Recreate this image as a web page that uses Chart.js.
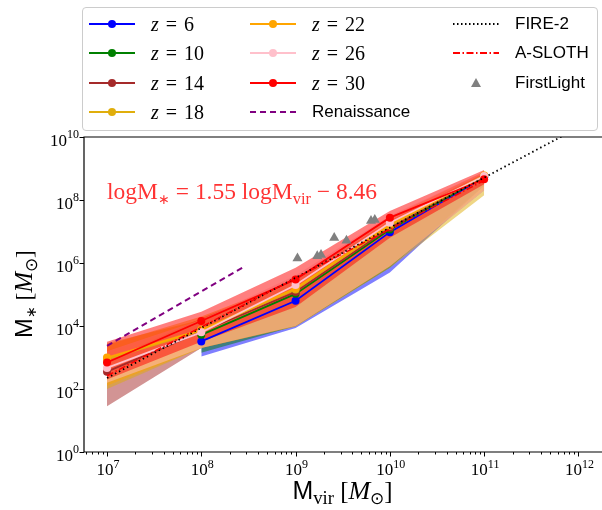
<!DOCTYPE html>
<html lang="en">
<head>
    <meta charset="UTF-8">
    <title>M* vs Mvir</title>
    <script src="https://cdn.jsdelivr.net/npm/chart.js"></script>
    <style>
        body { margin: 0; background: white; }
        #wrap { position: relative; width: 602px; height: 510px; overflow: hidden; }
        #chart { position: absolute; left: 0; top: 0; }
        #legend {
            position: absolute; left: 82px; top: 7px; width: 516px; height: 124px;
            border: 1px solid #cccccc; border-radius: 4px; background: rgba(255,255,255,0.8);
            box-sizing: border-box;
        }
        .item { position: absolute; height: 24px; display: flex; align-items: center; white-space: nowrap; }
        .item svg { width: 46px; height: 14px; margin-right: 16px; }
        .math { font-family: "Liberation Serif", serif; font-size: 20px; word-spacing: 2px; }
        .sans { font-family: "Liberation Sans", sans-serif; font-size: 17px; }
    </style>
</head>
<body>
<div id="wrap">
    <canvas id="chart" width="602" height="510"></canvas>
    <div id="legend"></div>
</div>
<script>
    // halo masses where the medians are given
    const mvir = [1e7, 1e8, 1e9, 1e10, 1e11];
    const zValues = [6, 10, 14, 18, 22, 26, 30];
    const zColors = ["#0000ff", "#008000", "#a52a2a", "#e0ae0c", "#ffa500", "#ffc0cb", "#ff0000"];

    // log10 M* medians per redshift (null = no halos in that bin)
    const z6_med  = [null, 3.51, 4.80, 6.98, 8.72];
    const z10_med = [null, 3.72, 5.02, 7.06, 8.74];
    const z14_med = [2.55, 3.82, 5.08, 7.12, 8.76];
    const z18_med = [2.95, 3.85, 5.16, 7.18, 8.77];
    const z22_med = [3.00, 3.88, 5.20, 7.22, 8.78];
    const z26_med = [2.67, 3.80, 5.30, 7.28, 8.76];
    const z30_med = [2.84, 4.16, 5.48, 7.44, 8.66];

    // log10 M* scatter band, lower / upper edge
    const z6_lo  = [null, 3.03, 3.94, 5.70, 8.45];
    const z6_hi  = [null, 3.75, 5.05, 7.15, 8.80];
    const z10_lo = [null, 3.15, 4.00, 5.85, 8.45];
    const z10_hi = [null, 3.95, 5.20, 7.20, 8.85];
    const z14_lo = [1.45, 3.30, 4.00, 5.90, 8.30];
    const z14_hi = [2.90, 4.25, 5.45, 7.35, 8.85];
    const z18_lo = [2.00, 3.30, 3.98, 5.85, 8.15];
    const z18_hi = [3.45, 4.20, 5.40, 7.35, 8.85];
    const z22_lo = [2.10, 3.30, 4.00, 5.90, 8.35];
    const z22_hi = [3.40, 4.30, 5.45, 7.45, 8.90];
    const z26_lo = [2.20, 3.30, 4.00, 5.90, 8.30];
    const z26_hi = [3.20, 4.20, 5.60, 7.50, 8.90];
    const z30_lo = [2.30, 3.50, 4.60, 6.80, 8.50];
    const z30_hi = [3.50, 4.45, 5.85, 7.65, 8.95];

    const medians = [z6_med, z10_med, z14_med, z18_med, z22_med, z26_med, z30_med];
    const lows = [z6_lo, z10_lo, z14_lo, z18_lo, z22_lo, z26_lo, z30_lo];
    const highs = [z6_hi, z10_hi, z14_hi, z18_hi, z22_hi, z26_hi, z30_hi];

    // other simulations, log10 values
    const renaissance_x = [7.0, 8.47];
    const renaissance_y = [3.37, 5.91];
    const fire2_x = [7.0, 12.0];
    const fire2_y = [2.35, 10.3];
    const asloth_x = [7.0, 11.0];
    const asloth_y = [2.42, 8.62];
    const firstlight_x = [9.02, 9.23, 9.27, 9.41, 9.54, 9.80, 9.84];
    const firstlight_y = [6.15, 6.22, 6.26, 6.80, 6.71, 7.34, 7.37];

    function pts(xs, ys) {
        return xs.map((x, i) => ({ x: x, y: ys[i] == null ? null : Math.pow(10, ys[i]) }));
    }
    function logPts(xs, ys) {
        return xs.map((x, i) => ({ x: Math.pow(10, x), y: Math.pow(10, ys[i]) }));
    }
    function alpha(hex, a) {
        const n = parseInt(hex.slice(1), 16);
        return `rgba(${n >> 16},${(n >> 8) & 255},${n & 255},${a})`;
    }

    const datasets = [];
    zValues.forEach((z, i) => {
        datasets.push({
            data: pts(mvir, lows[i]), borderWidth: 0, pointRadius: 0, fill: false,
            order: 100 - i
        });
        const loIndex = datasets.length - 1;
        datasets.push({
            data: pts(mvir, highs[i]), borderWidth: 0, pointRadius: 0,
            fill: { target: loIndex, above: alpha(zColors[i], 0.5), below: alpha(zColors[i], 0.5) },
            order: 100 - i
        });
    });
    zValues.forEach((z, i) => {
        datasets.push({
            data: pts(mvir, medians[i]), borderColor: zColors[i], backgroundColor: zColors[i],
            borderWidth: 1.8, pointRadius: 4, pointBorderWidth: 0, fill: false,
            order: 50 - i
        });
    });
    datasets.push({
        data: logPts(renaissance_x, renaissance_y), borderColor: "#800080",
        borderDash: [6, 4], borderWidth: 2, pointRadius: 0, fill: false, order: 5
    });
    datasets.push({
        data: logPts(fire2_x, fire2_y), borderColor: "#000000",
        borderDash: [1.5, 3], borderWidth: 1.8, pointRadius: 0, fill: false, order: 3
    });
    datasets.push({
        data: logPts(asloth_x, asloth_y), borderColor: "#ff0000",
        borderDash: [7, 2.5, 1.5, 2.5], borderWidth: 1.5, pointRadius: 0, fill: false, order: 2
    });
    datasets.push({
        type: "scatter",
        data: logPts(firstlight_x, firstlight_y), backgroundColor: "#808080",
        pointStyle: "triangle", pointRadius: 5.8, pointBorderWidth: 0, order: 1
    });

    const SERIF = '"Liberation Serif", serif';
    const SANS = '"Liberation Sans", sans-serif';

    function measure(ctx, parts) {
        let total = 0;
        parts.forEach(p => { ctx.font = p.font; total += ctx.measureText(p.t).width; });
        return total;
    }

    // draws a run of text pieces, each with its own font and vertical shift
    function drawRich(ctx, parts, x, y, align) {
        const total = measure(ctx, parts);
        let cx = align === "center" ? x - total / 2 : align === "right" ? x - total : x;
        ctx.textAlign = "left";
        ctx.textBaseline = "alphabetic";
        parts.forEach(p => {
            ctx.font = p.font;
            ctx.fillText(p.t, cx, y + (p.dy || 0));
            cx += ctx.measureText(p.t).width;
        });
    }

    // builds the pieces at size s, then rebuilds them so they span the wanted width
    function fitted(ctx, build, width) {
        const s = 20;
        return build(s * width / measure(ctx, build(s)));
    }

    const fitLabel = s => [
        { t: "logM", font: `${s}px ${SERIF}` },
        { t: "\u2217", font: `${s * 0.6}px ${SERIF}`, dy: s * 0.2 },
        { t: " = 1.55 logM", font: `${s}px ${SERIF}` },
        { t: "vir", font: `${s * 0.7}px ${SERIF}`, dy: s * 0.2 },
        { t: " \u2212 8.46", font: `${s}px ${SERIF}` }
    ];
    const xTitle = s => [
        { t: "M", font: `${s}px ${SANS}` },
        { t: "vir", font: `${s * 0.75}px ${SERIF}`, dy: s * 0.2 },
        { t: " [", font: `${s}px ${SERIF}` },
        { t: "M", font: `italic ${s * 1.05}px ${SERIF}` },
        { t: "\u2299", font: `${s * 0.7}px ${SERIF}`, dy: s * 0.2 },
        { t: "]", font: `${s}px ${SERIF}` }
    ];
    const yTitle = s => [
        { t: "M", font: `${s}px ${SANS}` },
        { t: "\u2217", font: `${s * 0.6}px ${SERIF}`, dy: s * 0.18 },
        { t: " [", font: `${s}px ${SERIF}` },
        { t: "M", font: `italic ${s * 1.05}px ${SERIF}` },
        { t: "\u2299", font: `${s * 0.7}px ${SERIF}`, dy: s * 0.2 },
        { t: "]", font: `${s}px ${SERIF}` }
    ];

    const decor = {
        id: "decor",
        afterDraw(chart) {
            const { ctx, chartArea: a, scales: { x, y } } = chart;
            ctx.save();
            ctx.strokeStyle = "#000";
            ctx.fillStyle = "#000";
            ctx.lineWidth = 1.2;
            ctx.beginPath();
            ctx.moveTo(a.right + 1, a.top); ctx.lineTo(a.left, a.top);
            ctx.lineTo(a.left, a.bottom); ctx.lineTo(a.right + 1, a.bottom);
            ctx.stroke();

            // x ticks, major and minor
            ctx.lineWidth = 1;
            for (let e = 6; e <= 12; e++) {
                for (let m = 1; m <= 9; m++) {
                    const v = m * Math.pow(10, e);
                    if (v < x.min || v > x.max) continue;
                    const px = Math.round(x.getPixelForValue(v)) + 0.5;
                    ctx.beginPath();
                    ctx.moveTo(px, a.bottom);
                    ctx.lineTo(px, a.bottom + (m === 1 ? 4.5 : 2.5));
                    ctx.stroke();
                }
            }
            for (let e = 7; e <= 12; e++) {
                const px = x.getPixelForValue(Math.pow(10, e));
                drawRich(ctx, [
                    { t: "10", font: "17px " + SERIF },
                    { t: String(e), font: "12px " + SERIF, dy: -7 }
                ], px + 1, a.bottom + 23, "center");
            }
            // y ticks every second decade
            for (let e = 0; e <= 10; e += 2) {
                const py = Math.round(y.getPixelForValue(Math.pow(10, e))) + 0.5;
                ctx.beginPath();
                ctx.moveTo(a.left, py);
                ctx.lineTo(a.left - 4.5, py);
                ctx.stroke();
                drawRich(ctx, [
                    { t: "10", font: "17px " + SERIF },
                    { t: String(e), font: "12px " + SERIF, dy: -8 }
                ], a.left - 5, py + 8.5, "right");
            }

            // axis titles
            drawRich(ctx, fitted(ctx, xTitle, 101), 342.5, 499, "center");
            ctx.save();
            ctx.translate(32, 294);
            ctx.rotate(-Math.PI / 2);
            drawRich(ctx, fitted(ctx, yTitle, 88), 0, 0, "center");
            ctx.restore();

            // fit relation
            ctx.fillStyle = "#ff3333";
            drawRich(ctx, fitted(ctx, fitLabel, 270), 107, 199, "left");
            ctx.restore();
        }
    };

    new Chart(document.getElementById("chart"), {
        type: "line",
        data: { datasets: datasets },
        options: {
            responsive: false,
            animation: false,
            events: [],
            layout: { autoPadding: false, padding: { left: 84, top: 137, right: 0, bottom: 58 } },
            plugins: { legend: { display: false }, tooltip: { enabled: false } },
            scales: {
                x: {
                    type: "logarithmic", bounds: "data",
                    min: Math.pow(10, 6.756), max: Math.pow(10, 12.25),
                    ticks: { display: false }, grid: { display: false }, border: { display: false },
                    afterFit: s => { s.height = 0; }
                },
                y: {
                    type: "logarithmic", bounds: "data",
                    min: 1, max: 1e10,
                    ticks: { display: false }, grid: { display: false }, border: { display: false },
                    afterFit: s => { s.width = 0; }
                }
            }
        },
        plugins: [decor]
    });

    // legend, three columns filled top to bottom
    const legendItems = [
        ...zValues.map((z, i) => ({ kind: "marker", color: zColors[i], html: `<span class="math"><i>z</i> = ${z}</span>` })),
        { kind: "dash", color: "#800080", dash: "6,4", html: '<span class="sans">Renaissance</span>' },
        { kind: "dash", color: "#000000", dash: "1.5,2.5", html: '<span class="sans">FIRE-2</span>' },
        { kind: "dash", color: "#ff0000", dash: "7,2.5,1.5,2.5", html: '<span class="sans">A-SLOTH</span>' },
        { kind: "tri", color: "#808080", html: '<span class="sans">FirstLight</span>' }
    ];
    const colLeft = [6, 167, 370];
    const rowTop = [4, 33, 63, 92];
    const legend = document.getElementById("legend");
    legendItems.forEach((it, k) => {
        const col = Math.floor(k / 4), row = k % 4;
        let sw;
        if (it.kind === "marker") {
            sw = `<line x1="0" y1="7" x2="46" y2="7" stroke="${it.color}" stroke-width="1.8"/><circle cx="23" cy="7" r="4" fill="${it.color}"/>`;
        } else if (it.kind === "dash") {
            sw = `<line x1="0" y1="7" x2="46" y2="7" stroke="${it.color}" stroke-width="1.8" stroke-dasharray="${it.dash}"/>`;
        } else {
            sw = `<polygon points="23,2 28,11 18,11" fill="${it.color}"/>`;
        }
        const div = document.createElement("div");
        div.className = "item";
        div.style.left = colLeft[col] + "px";
        div.style.top = rowTop[row] + "px";
        div.innerHTML = `<svg viewBox="0 0 46 14">${sw}</svg>${it.html}`;
        legend.appendChild(div);
    });
</script>
</body>
</html>
